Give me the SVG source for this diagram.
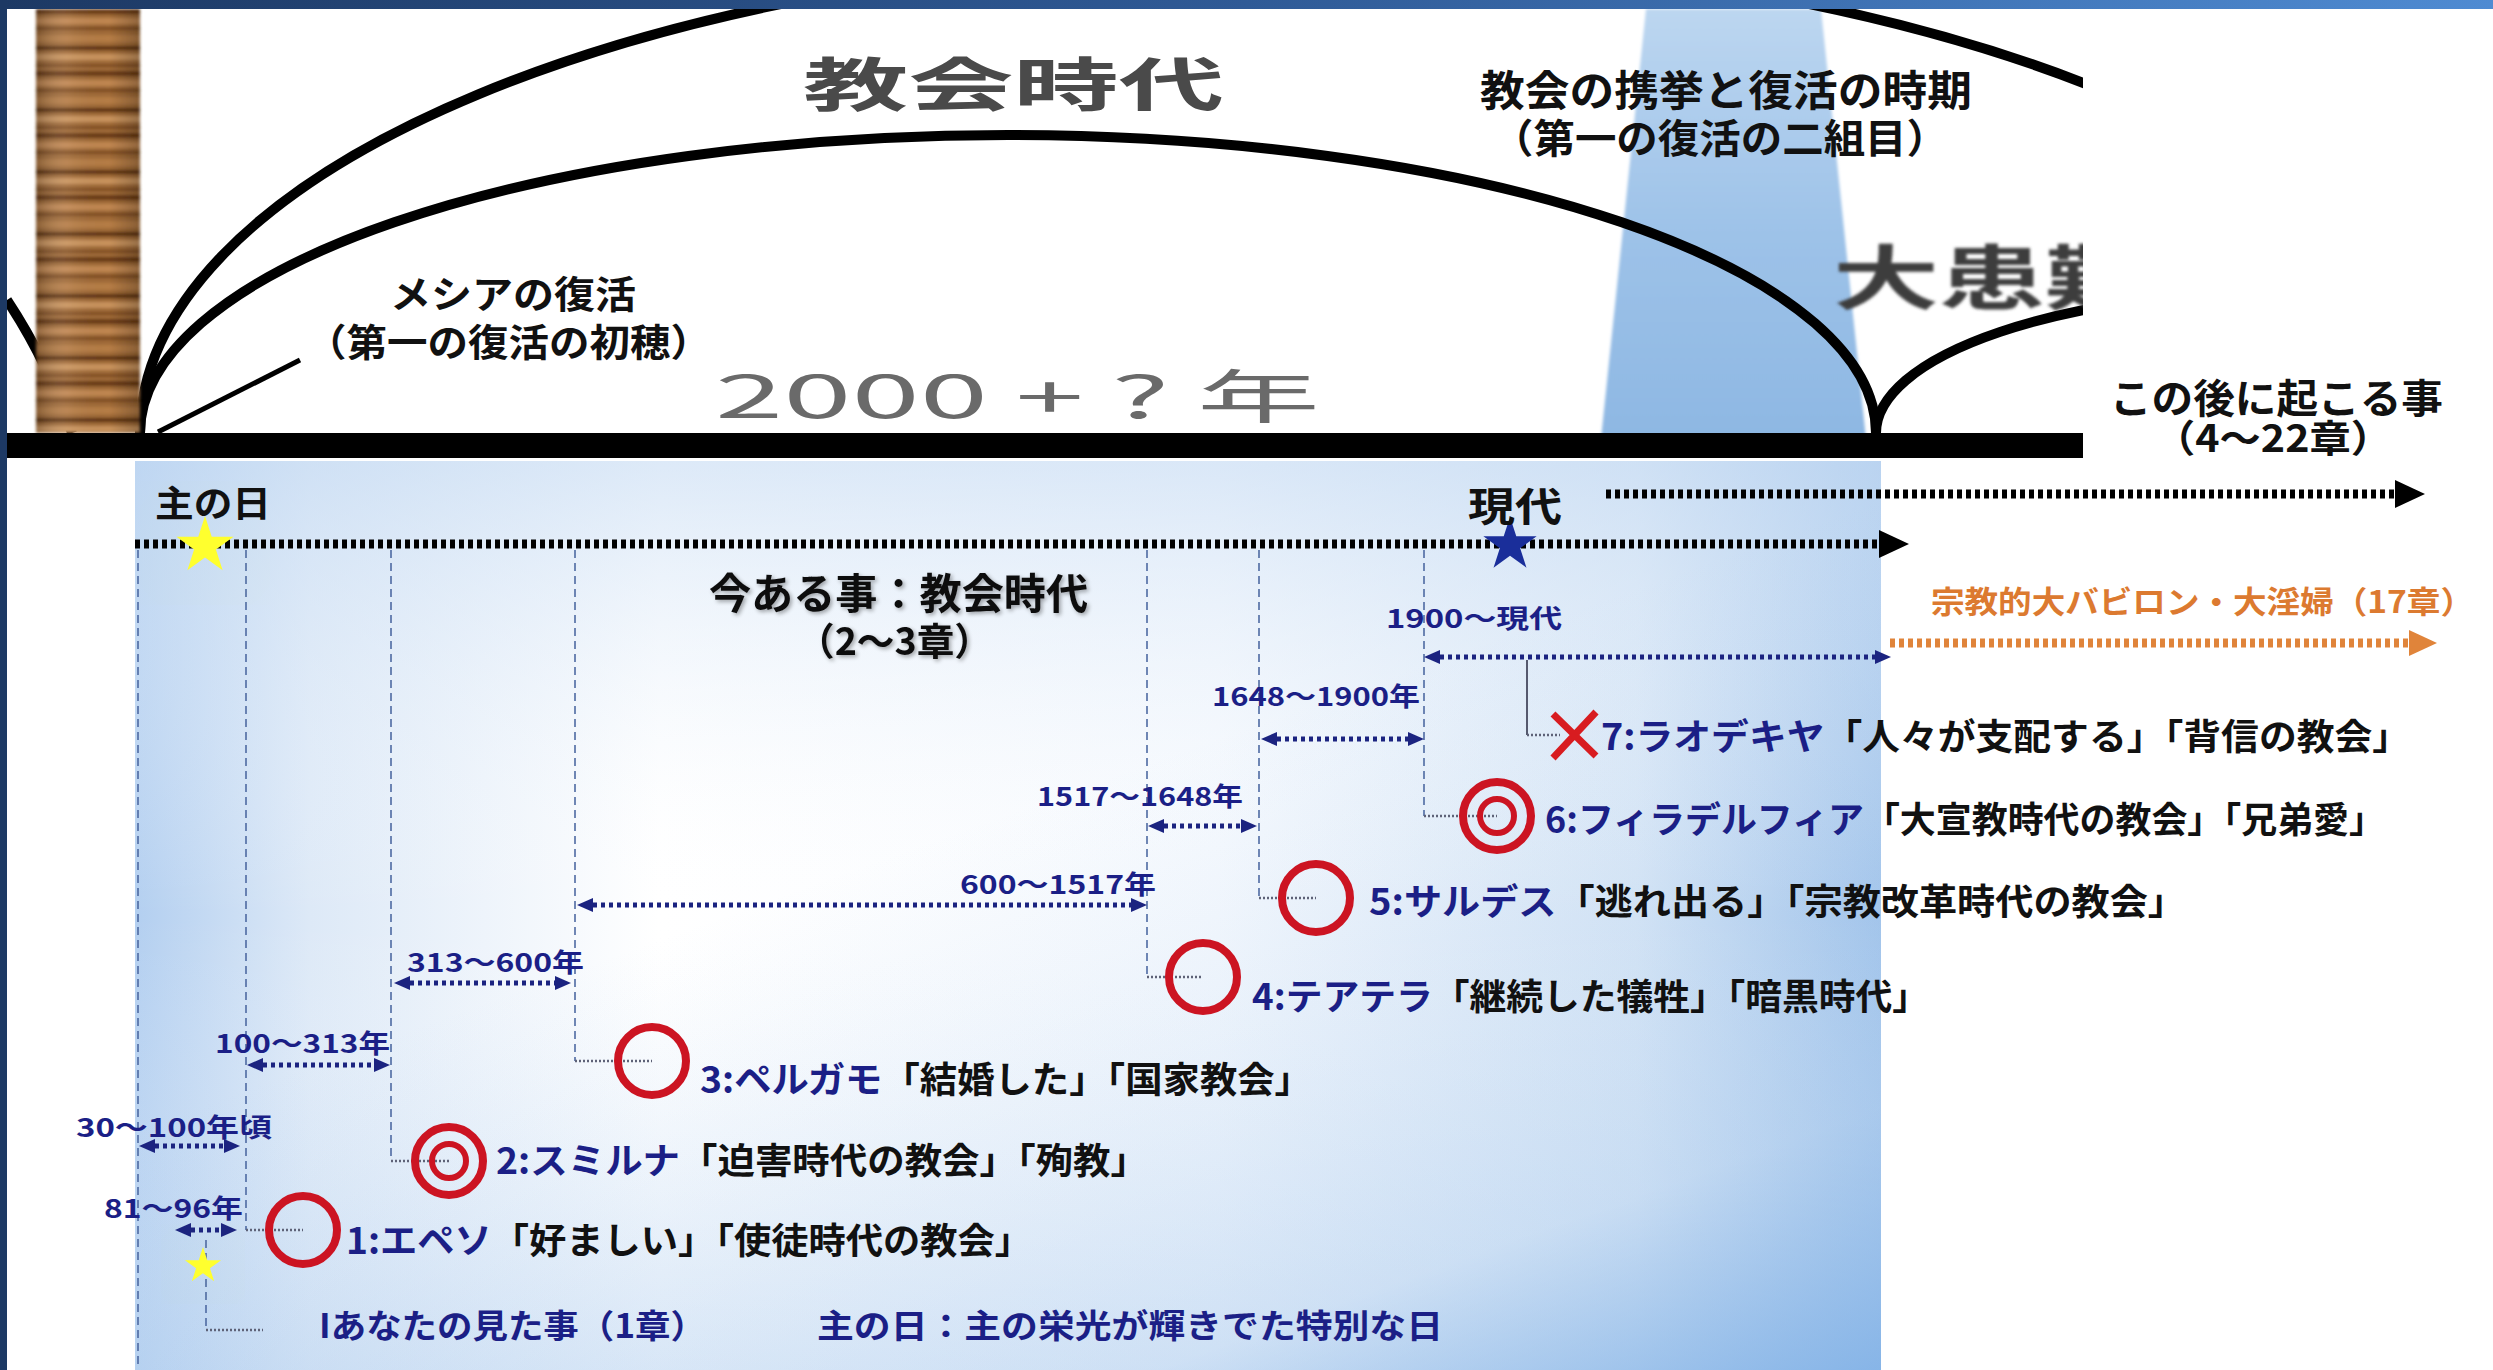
<svg xmlns="http://www.w3.org/2000/svg" width="2493" height="1370" viewBox="0 0 2493 1370">
  <defs>
    <style>
      .jp { font-family: 'Noto Sans CJK JP', 'Noto Sans CJK SC', sans-serif; }
      .lbl { font-family: 'Noto Sans CJK JP', 'Noto Sans CJK SC', sans-serif; font-weight: 700; fill: #111; }
      .navy { fill: #1b1f86; }
      .blk { fill: #111; }
      .period { font-family: 'Noto Sans CJK JP', 'Noto Sans CJK SC', sans-serif; font-weight: 700; font-size: 26px; fill: #1b1f86; }
      .church { font-family: 'Noto Sans CJK JP', 'Noto Sans CJK SC', sans-serif; font-weight: 700; font-size: 36px; }
      .arc { fill: none; stroke: #000; stroke-width: 10; }
      .span { fill: none; stroke: #1b2380; stroke-width: 5; stroke-dasharray: 4 4; marker-start: url(#navyHead); marker-end: url(#navyHead); }
      .guide { fill: none; stroke: #4e6aa2; stroke-width: 1.6; stroke-dasharray: 8 5; }
      .tie { fill: none; stroke: #5e6277; stroke-width: 2.5; stroke-dasharray: 2 2; }
      .ring { fill: none; stroke: #cc1422; stroke-width: 8; }
      .ring2 { fill: none; stroke: #cc1422; stroke-width: 6; }
    </style>
    <linearGradient id="topBar" x1="0" y1="0" x2="1" y2="0">
      <stop offset="0" stop-color="#1d3964"/>
      <stop offset="0.5" stop-color="#2f5a96"/>
      <stop offset="1" stop-color="#4f8bd2"/>
    </linearGradient>
    <linearGradient id="column" x1="0" y1="0" x2="0" y2="1">
      <stop offset="0" stop-color="#bcd6f0"/>
      <stop offset="0.5" stop-color="#9dc2e8"/>
      <stop offset="1" stop-color="#8cb6e2"/>
    </linearGradient>
    <linearGradient id="panelH" x1="0" y1="0" x2="1" y2="0">
      <stop offset="0" stop-color="#b3cff0"/>
      <stop offset="0.1" stop-color="#dde9f7"/>
      <stop offset="0.3" stop-color="#ffffff"/>
      <stop offset="0.62" stop-color="#f7fafe"/>
      <stop offset="0.86" stop-color="#dce9f7"/>
      <stop offset="1" stop-color="#a8c8ec"/>
    </linearGradient>
    <linearGradient id="panelCorner" x1="0.55" y1="0.35" x2="1" y2="1">
      <stop offset="0" stop-color="#8ab6e6" stop-opacity="0"/>
      <stop offset="0.7" stop-color="#8ab6e6" stop-opacity="0.25"/>
      <stop offset="1" stop-color="#7fb0e6" stop-opacity="0.85"/>
    </linearGradient>
    <linearGradient id="panelLeft" x1="0" y1="0" x2="0" y2="1">
      <stop offset="0" stop-color="#c6dbf3" stop-opacity="0.6"/>
      <stop offset="0.5" stop-color="#ffffff" stop-opacity="0"/>
      <stop offset="1" stop-color="#c6dbf3" stop-opacity="0.4"/>
    </linearGradient>
    <linearGradient id="woodShade" x1="0" y1="0" x2="1" y2="0">
      <stop offset="0" stop-color="#000" stop-opacity="0.25"/>
      <stop offset="0.3" stop-color="#fff" stop-opacity="0.08"/>
      <stop offset="0.7" stop-color="#000" stop-opacity="0"/>
      <stop offset="1" stop-color="#000" stop-opacity="0.25"/>
    </linearGradient>
    <pattern id="woodGrain" patternUnits="userSpaceOnUse" x="0" y="9" width="104" height="62">
      <rect width="104" height="62" fill="#a06a37"/>
      <rect y="0" width="104" height="5" fill="#6a3a15"/>
      <rect y="9" width="104" height="6" fill="#c08650"/>
      <rect y="18" width="104" height="3" fill="#7d4a20"/>
      <rect y="26" width="104" height="7" fill="#b57c45"/>
      <rect y="37" width="104" height="4" fill="#5e3210"/>
      <rect y="45" width="104" height="6" fill="#c8925c"/>
      <rect y="55" width="104" height="3" fill="#804d22"/>
    </pattern>
    <filter id="soft" x="-10%" y="-10%" width="120%" height="120%">
      <feGaussianBlur stdDeviation="1.6"/>
    </filter>
    <filter id="glow" x="-50%" y="-50%" width="200%" height="200%">
      <feGaussianBlur stdDeviation="4"/>
    </filter>
    <filter id="shade" x="-5%" y="-20%" width="110%" height="140%">
      <feGaussianBlur in="SourceAlpha" stdDeviation="2"/>
      <feOffset dx="2" dy="2"/>
      <feComponentTransfer><feFuncA type="linear" slope="0.35"/></feComponentTransfer>
      <feMerge><feMergeNode/><feMergeNode in="SourceGraphic"/></feMerge>
    </filter>
    <clipPath id="stage">
      <rect x="7" y="9" width="2076" height="449"/>
    </clipPath>
    <marker id="blackHead" markerUnits="userSpaceOnUse" viewBox="0 0 30 28" markerWidth="30" markerHeight="28" refX="0" refY="14" orient="auto">
      <path d="M0,0 L30,14 L0,28 Z" fill="#000"/>
    </marker>
    <marker id="orangeHead" markerUnits="userSpaceOnUse" viewBox="0 0 28 26" markerWidth="28" markerHeight="26" refX="0" refY="13" orient="auto">
      <path d="M0,0 L28,13 L0,26 Z" fill="#e0843a"/>
    </marker>
    <marker id="navyHead" markerUnits="userSpaceOnUse" viewBox="0 0 16 16" markerWidth="16" markerHeight="16" refX="0" refY="8" orient="auto-start-reverse">
      <path d="M0,1 L16,8 L0,15 Z" fill="#1b2380"/>
    </marker>
    <polygon id="star" points="0,-1 0.2245,-0.309 0.951,-0.309 0.363,0.118 0.588,0.809 0,0.382 -0.588,0.809 -0.363,0.118 -0.951,-0.309 -0.2245,-0.309"/>
  </defs>

  <!-- page -->
  <rect x="0" y="0" width="2493" height="1370" fill="#ffffff"/>

  <!-- lower timeline panel -->
  <g id="panel">
    <rect x="135" y="461" width="1746" height="909" fill="url(#panelH)"/>
    <rect x="135" y="461" width="1746" height="909" fill="url(#panelLeft)"/>
    <rect x="135" y="461" width="1746" height="909" fill="url(#panelCorner)"/>
  </g>

  <!-- upper overview: arcs of the ages -->
  <g id="overview" clip-path="url(#stage)">
    <polygon points="1646,9 1821,9 1868,458 1599,458" fill="url(#column)" filter="url(#soft)"/>
    <path class="arc" d="M140,433 A1155,479 0 0 1 2450,433"/>
    <path class="arc" d="M140,433 A868,298 0 0 1 1876,433"/>
    <path class="arc" d="M1876,433 A424,143 0 0 1 2724,433"/>
    <path class="arc" d="M7,300 Q48,362 72,433"/>
    <g id="pillar" filter="url(#soft)">
      <rect x="36" y="9" width="104" height="424" fill="url(#woodGrain)"/>
      <rect x="36" y="9" width="104" height="424" fill="url(#woodShade)"/>
    </g>
    <text class="jp" x="803" y="106" font-size="58" font-weight="700" fill="#4a4a4a" textLength="421" lengthAdjust="spacingAndGlyphs">教会時代</text>
    <text class="jp" x="1833" y="304" font-size="70" font-weight="700" fill="#3c3c3c" textLength="318" lengthAdjust="spacingAndGlyphs" filter="url(#soft)">大患難</text>
  </g>

  <!-- ground bar -->
  <rect x="7" y="433" width="2076" height="25" fill="#000"/>

  <!-- upper captions -->
  <g id="messiah">
    <line x1="158" y1="432" x2="300" y2="360" stroke="#000" stroke-width="5"/>
    <text class="lbl" x="390" y="308" font-size="38" textLength="246" lengthAdjust="spacingAndGlyphs">メシアの復活</text>
    <text class="lbl" x="306" y="356" font-size="38" textLength="405" lengthAdjust="spacingAndGlyphs">（第一の復活の初穂）</text>
  </g>
  <text class="jp" x="715" y="418" font-size="58" fill="#6a6a6a" textLength="605" lengthAdjust="spacingAndGlyphs">2000 + ? 年</text>
  <g id="rapture">
    <text class="lbl" x="1480" y="106" font-size="42" textLength="492" lengthAdjust="spacingAndGlyphs">教会の携挙と復活の時期</text>
    <text class="lbl" x="1492" y="153" font-size="40" textLength="456" lengthAdjust="spacingAndGlyphs">（第一の復活の二組目）</text>
  </g>
  <g id="hereafter">
    <text class="lbl" x="2110" y="413" font-size="40" textLength="333" lengthAdjust="spacingAndGlyphs">この後に起こる事</text>
    <text class="lbl" x="2154" y="452" font-size="38" textLength="238" lengthAdjust="spacingAndGlyphs">（4～22章）</text>
  </g>

  <!-- frame -->
  <rect x="0" y="0" width="2493" height="9" fill="url(#topBar)"/>
  <rect x="0" y="0" width="7" height="1370" fill="#1d3964"/>

  <!-- connectors -->
  <g id="connectors">
    <!-- guide lines dropping from the age line -->
    <line class="guide" x1="138" y1="550" x2="138" y2="1366"/>
    <line class="guide" x1="246" y1="550" x2="246" y2="1230"/>
    <line class="guide" x1="391" y1="550" x2="391" y2="1161"/>
    <line class="guide" x1="575" y1="550" x2="575" y2="1061"/>
    <line class="guide" x1="1147" y1="550" x2="1147" y2="977"/>
    <line class="guide" x1="1259" y1="550" x2="1259" y2="898"/>
    <line class="guide" x1="1424" y1="550" x2="1424" y2="816"/>
    <line x1="1527" y1="660" x2="1527" y2="735" stroke="#55596e" stroke-width="2"/>
    <line class="guide" x1="206" y1="1240" x2="206" y2="1330"/>
    <!-- ties into each church mark -->
    <line class="tie" x1="246" y1="1230" x2="303" y2="1230"/>
    <line class="tie" x1="391" y1="1161" x2="449" y2="1161"/>
    <line class="tie" x1="575" y1="1061" x2="652" y2="1061"/>
    <line class="tie" x1="1147" y1="977" x2="1203" y2="977"/>
    <line class="tie" x1="1259" y1="898" x2="1316" y2="898"/>
    <line class="tie" x1="1424" y1="816" x2="1497" y2="816"/>
    <line class="tie" x1="1527" y1="735" x2="1560" y2="735"/>
    <line class="tie" x1="206" y1="1330" x2="263" y2="1330"/>

    <!-- age lines -->
    <line x1="135" y1="544" x2="1879" y2="544" stroke="#000" stroke-width="9" stroke-dasharray="5 4" marker-end="url(#blackHead)"/>
    <line x1="1606" y1="494" x2="2395" y2="494" stroke="#000" stroke-width="9" stroke-dasharray="5 4" marker-end="url(#blackHead)"/>
    <line x1="1890" y1="643" x2="2409" y2="643" stroke="#e0843a" stroke-width="9" stroke-dasharray="5 4" marker-end="url(#orangeHead)"/>

    <!-- period spans -->
    <line class="span" x1="191" y1="1230" x2="221" y2="1230"/>
    <line class="span" x1="155" y1="1146" x2="224" y2="1146"/>
    <line class="span" x1="263" y1="1065" x2="374" y2="1065"/>
    <line class="span" x1="410" y1="983" x2="555" y2="983"/>
    <line class="span" x1="593" y1="905" x2="1131" y2="905"/>
    <line class="span" x1="1164" y1="826" x2="1241" y2="826"/>
    <line class="span" x1="1277" y1="739" x2="1408" y2="739"/>
    <line class="span" x1="1440" y1="657" x2="1875" y2="657"/>
  </g>

  <!-- stars -->
  <g id="lords-day">
    <use href="#star" transform="translate(205,546) scale(34)" fill="#ffff66" opacity="0.7" filter="url(#glow)"/>
    <use href="#star" transform="translate(205,546) scale(30)" fill="#ffff2e"/>
    <text class="lbl" x="155" y="517" font-size="36" textLength="116" lengthAdjust="spacingAndGlyphs">主の日</text>
  </g>
  <g id="present">
    <use href="#star" transform="translate(1510,545) scale(28)" fill="#1a2e9a"/>
    <text class="lbl" x="1468" y="521" font-size="40" textLength="94" lengthAdjust="spacingAndGlyphs">現代</text>
  </g>
  <g id="seen">
    <use href="#star" transform="translate(203,1266) scale(22)" fill="#ffff66" opacity="0.7" filter="url(#glow)"/>
    <use href="#star" transform="translate(203,1266) scale(19)" fill="#ffff2e"/>
  </g>

  <!-- age captions -->
  <g id="church-age" filter="url(#shade)">
    <text class="lbl" x="709" y="609" font-size="42" textLength="379" lengthAdjust="spacingAndGlyphs">今ある事：教会時代</text>
    <text class="lbl" x="797" y="655" font-size="38" textLength="195" lengthAdjust="spacingAndGlyphs">（2～3章）</text>
  </g>
  <text class="jp" x="1931" y="613" font-size="31" font-weight="700" fill="#dc7a30" textLength="543" lengthAdjust="spacingAndGlyphs">宗教的大バビロン・大淫婦（17章）</text>

  <!-- period labels -->
  <g id="periods">
    <text class="period" x="104" y="1218" textLength="139" lengthAdjust="spacingAndGlyphs">81～96年</text>
    <text class="period" x="76" y="1137" textLength="196" lengthAdjust="spacingAndGlyphs">30～100年頃</text>
    <text class="period" x="215" y="1053" textLength="175" lengthAdjust="spacingAndGlyphs">100～313年</text>
    <text class="period" x="407" y="972" textLength="177" lengthAdjust="spacingAndGlyphs">313～600年</text>
    <text class="period" x="960" y="894" textLength="196" lengthAdjust="spacingAndGlyphs">600～1517年</text>
    <text class="period" x="1037" y="806" textLength="206" lengthAdjust="spacingAndGlyphs">1517～1648年</text>
    <text class="period" x="1212" y="706" textLength="208" lengthAdjust="spacingAndGlyphs">1648～1900年</text>
    <text class="period" x="1386" y="628" textLength="176" lengthAdjust="spacingAndGlyphs">1900～現代</text>
  </g>

  <!-- the seven churches -->
  <g id="church-1">
    <circle class="ring" cx="303" cy="1230" r="34"/>
    <text class="church" x="346" y="1254" textLength="686" lengthAdjust="spacingAndGlyphs"><tspan class="navy">1:エペソ</tspan><tspan class="blk">「好ましい」「使徒時代の教会」</tspan></text>
  </g>
  <g id="church-2">
    <circle class="ring" cx="449" cy="1161" r="34"/>
    <circle class="ring2" cx="449" cy="1161" r="17"/>
    <text class="church" x="496" y="1174" textLength="652" lengthAdjust="spacingAndGlyphs"><tspan class="navy">2:スミルナ</tspan><tspan class="blk">「迫害時代の教会」「殉教」</tspan></text>
  </g>
  <g id="church-3">
    <circle class="ring" cx="652" cy="1061" r="34"/>
    <text class="church" x="700" y="1093" textLength="612" lengthAdjust="spacingAndGlyphs"><tspan class="navy">3:ペルガモ</tspan><tspan class="blk">「結婚した」「国家教会」</tspan></text>
  </g>
  <g id="church-4">
    <circle class="ring" cx="1203" cy="977" r="34"/>
    <text class="church" x="1252" y="1010" textLength="677" lengthAdjust="spacingAndGlyphs"><tspan class="navy">4:テアテラ</tspan><tspan class="blk">「継続した犠牲」「暗黒時代」</tspan></text>
  </g>
  <g id="church-5">
    <circle class="ring" cx="1316" cy="898" r="34"/>
    <text class="church" x="1369" y="915" textLength="817" lengthAdjust="spacingAndGlyphs"><tspan class="navy">5:サルデス</tspan><tspan class="blk">「逃れ出る」「宗教改革時代の教会」</tspan></text>
  </g>
  <g id="church-6">
    <circle class="ring" cx="1497" cy="816" r="34"/>
    <circle class="ring2" cx="1497" cy="816" r="17"/>
    <text class="church" x="1545" y="833" textLength="840" lengthAdjust="spacingAndGlyphs"><tspan class="navy">6:フィラデルフィア</tspan><tspan class="blk">「大宣教時代の教会」「兄弟愛」</tspan></text>
  </g>
  <g id="church-7">
    <path d="M1553,714 L1596,756 M1596,712 L1553,758" stroke="#d81c20" stroke-width="7" fill="none"/>
    <text class="church" x="1601" y="750" textLength="809" lengthAdjust="spacingAndGlyphs"><tspan class="navy">7:ラオデキヤ</tspan><tspan class="blk">「人々が支配する」「背信の教会」</tspan></text>
  </g>

  <!-- footer notes -->
  <g id="notes">
    <text class="church navy" x="319" y="1338" font-size="33" style="font-size:33px" textLength="387" lengthAdjust="spacingAndGlyphs">Iあなたの見た事（1章）</text>
    <text class="church navy" x="817" y="1338" style="font-size:33px" textLength="626" lengthAdjust="spacingAndGlyphs">主の日：主の栄光が輝きでた特別な日</text>
  </g>
</svg>
